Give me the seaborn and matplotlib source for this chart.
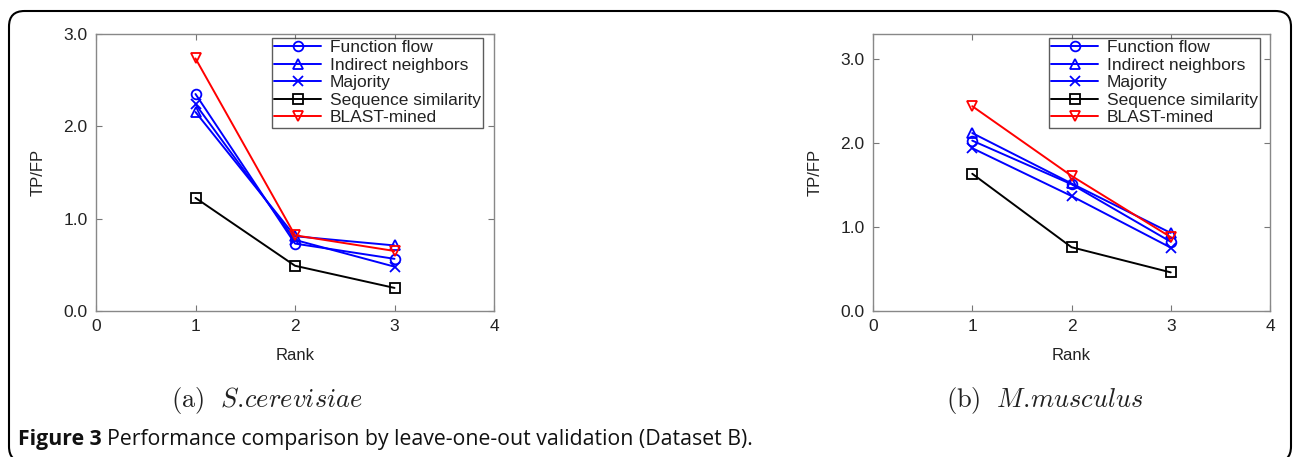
import numpy as np
import pandas as pd
import matplotlib
matplotlib.use("Agg")
import matplotlib.pyplot as plt
from matplotlib.patches import FancyBboxPatch
import seaborn as sns

# ---- data ----
ranks = [1, 2, 3]
methods = ["Function flow", "Indirect neighbors", "Majority",
           "Sequence similarity", "BLAST-mined"]

# S. cerevisiae
sc_function_flow = [2.35, 0.73, 0.565]
sc_indirect = [2.155, 0.81, 0.71]
sc_majority = [2.24, 0.77, 0.48]
sc_sequence = [1.225, 0.49, 0.25]
sc_blast = [2.735, 0.82, 0.65]

# M. musculus
mm_function_flow = [2.03, 1.51, 0.825]
mm_indirect = [2.12, 1.52, 0.93]
mm_majority = [1.94, 1.37, 0.755]
mm_sequence = [1.635, 0.76, 0.46]
mm_blast = [2.44, 1.61, 0.88]

yticks = [0.0, 1.0, 2.0, 3.0]
ytick_labels = ["0.0", "1.0", "2.0", "3.0"]
xticks = [0, 1, 2, 3, 4]

colors = ["#0000ff", "#0000ff", "#0000ff", "#000000", "#ff0000"]
markers = ["o", "^", "x", "s", "v"]

sns.set_theme(style="white")
plt.rcParams["font.family"] = ["Liberation Sans", "DejaVu Sans"]
plt.rcParams["mathtext.fontset"] = "cm"

W, H = 1293, 457
fig = plt.figure(figsize=(W / 100, H / 100), dpi=100)


def frac_box(x0, y0, x1, y1):
    return [x0 / W, 1 - y1 / H, (x1 - x0) / W, (y1 - y0) / H]


def draw_panel(ax, series, ymax, legend_x):
    for name, vals, c, m in zip(methods, series, colors, markers):
        df = pd.DataFrame({"Rank": ranks, "TP/FP": vals})
        sns.lineplot(data=df, x="Rank", y="TP/FP", ax=ax, color=c,
                     marker=m, markersize=7, markerfacecolor="none",
                     markeredgecolor=c, markeredgewidth=1.3,
                     linewidth=1.4, label=name)
    ax.set_xlim(0, 4)
    ax.set_ylim(0, ymax)
    ax.set_xticks(xticks)
    ax.set_xticklabels([str(t) for t in xticks])
    ax.set_yticks(yticks)
    ax.set_yticklabels(ytick_labels)
    ax.tick_params(direction="in", length=4, width=0.8, colors="#777777",
                   labelcolor="#222222", labelsize=12.5, top=True,
                   right=True, left=True, bottom=True, pad=6)
    for s in ax.spines.values():
        s.set_color("#888888")
        s.set_linewidth(1.0)
    ax.set_xlabel("Rank", fontsize=12, color="#222222", labelpad=10)
    ax.set_ylabel("TP/FP", fontsize=12, color="#222222", labelpad=13)
    leg = ax.legend(loc="upper right", bbox_to_anchor=(legend_x, 0.986),
                    borderaxespad=0, frameon=True, fancybox=False,
                    fontsize=12.5, handlelength=2.7, labelspacing=0.14,
                    borderpad=0.12, handletextpad=0.5)
    leg.get_frame().set_edgecolor("#333333")
    leg.get_frame().set_linewidth(1.0)
    for t in leg.get_texts():
        t.set_color("#222222")


ax1 = fig.add_axes(frac_box(96, 34, 494, 311))
draw_panel(ax1, [sc_function_flow, sc_indirect, sc_majority, sc_sequence,
                 sc_blast], 3.0, 0.972)

ax2 = fig.add_axes(frac_box(873, 34, 1270, 311))
draw_panel(ax2, [mm_function_flow, mm_indirect, mm_majority, mm_sequence,
                 mm_blast], 3.3, 0.975)

# sub-captions
fig.text(267 / W, 1 - 400 / H, r"$\mathrm{(a)}\ \ \mathit{S.\!cerevisiae}$",
         ha="center", va="center", fontsize=19, color="#222222")
fig.text(1045 / W, 1 - 400 / H, r"$\mathrm{(b)}\ \ \mathit{M.\!musculus}$",
         ha="center", va="center", fontsize=19, color="#222222")

# figure caption
cap_bold = fig.text(18 / W, 1 - 440 / H, "Figure 3", ha="left", va="center",
                    fontsize=15.3, fontweight="bold", family="Open Sans",
                    color="#111111")
fig.canvas.draw()
bb = cap_bold.get_window_extent()
fig.text((bb.x1 + 5) / W, 1 - 440 / H,
         "Performance comparison by leave-one-out validation (Dataset B).",
         ha="left", va="center", fontsize=15.3, family="Open Sans",
         color="#111111")

# rounded frame around the figure
frame = FancyBboxPatch((9 / W, 1 - 462 / H), (1291 - 9) / W, (462 - 11) / H,
                       boxstyle="round,pad=0,rounding_size=0.012",
                       transform=fig.transFigure, fill=False,
                       edgecolor="#000000", linewidth=1.5, clip_on=False,
                       mutation_aspect=W / H)
fig.patches.append(frame)

fig.savefig("out.png", dpi=100)
